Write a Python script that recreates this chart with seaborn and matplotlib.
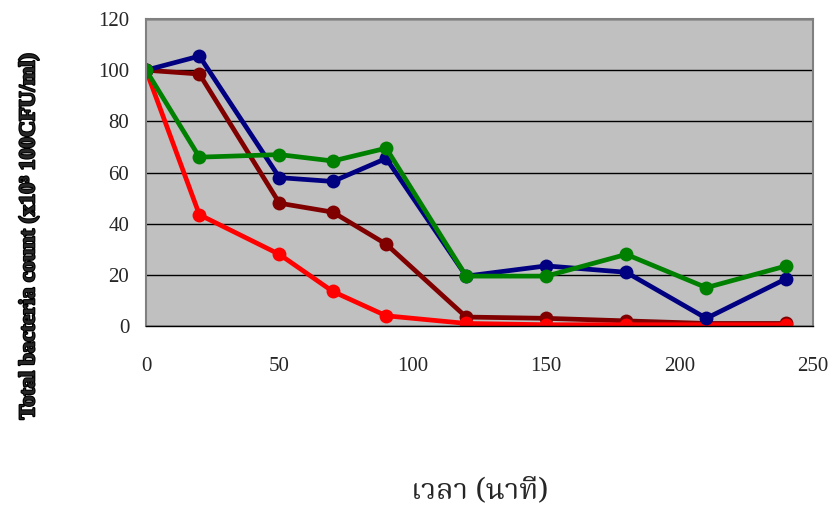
import matplotlib
matplotlib.use("Agg")
import matplotlib.pyplot as plt
import matplotlib.patheffects as pe
from matplotlib import font_manager
from matplotlib.ft2font import FT2Font
import seaborn as sns
import pandas as pd

# sampling times (minutes)
time_min = [0, 20, 50, 70, 90, 120, 150, 180, 210, 240]

# bacteria counts per treatment
series_blue = [100, 105.5, 58, 56.5, 65.5, 19.5, 23.5, 21, 3, 18.5]
series_brown = [100, 98.5, 48, 44.5, 32, 3.5, 3, 2, 1, 1]
series_red = [100, 43.5, 28, 13.5, 4, 1, 0.5, 0.5, 0.5, 0.5]
series_green = [100, 66, 67, 64.5, 69.5, 19.5, 19.5, 28, 15, 23.5]

x_ticks = [0, 50, 100, 150, 200, 250]
y_ticks = [0, 20, 40, 60, 80, 100, 120]

x_title = "เวลา (นาที)"
y_title = "Total bacteria count (x10³ 100CFU/ml)"


def find_thai_font():
    preferred = ["norasi", "kinnari", "notoserifthai", "notosansthai",
                 "garuda", "loma", "laksaman", "sawasdee", "umpush", "waree"]
    found = {}
    for path in font_manager.findSystemFonts():
        low = path.lower().replace("-", "").replace("_", "")
        if "mono" in low or "typo" in low or "typist" in low:
            continue
        try:
            f = FT2Font(path)
            if f.get_char_index(0x0E40) and f.get_char_index(0x0E27):
                found[low] = path
        except Exception:
            continue
    for key in preferred:
        for low, path in found.items():
            if key in low and "bold" in low:
                return path
        for low, path in found.items():
            if key in low:
                return path
    if found:
        return next(iter(found.values()))
    return None


sns.set_style("white")
plt.rcParams["font.family"] = ["Liberation Serif", "DejaVu Serif"]

fig = plt.figure(figsize=(8.35, 5.07), dpi=100)
ax = fig.add_axes([0.1749, 0.357, 0.7988, 0.6055])
ax.set_facecolor("#C0C0C0")

frames = []
for name, vals in [("brown", series_brown), ("red", series_red),
                   ("blue", series_blue), ("green", series_green)]:
    frames.append(pd.DataFrame({"time": time_min, "count": vals, "series": name}))
df = pd.concat(frames, ignore_index=True)

colors = {"brown": "#800000", "red": "#FF0000", "blue": "#000080", "green": "#008000"}
for name in ["brown", "red", "blue", "green"]:
    sub = df[df["series"] == name]
    sns.lineplot(data=sub, x="time", y="count", ax=ax, color=colors[name],
                 linewidth=3.4, marker="o", markersize=10, markeredgewidth=0,
                 legend=False)

ax.set_xlim(0, 250)
ax.set_ylim(0, 120)
ax.set_xticks(x_ticks)
ax.set_yticks(y_ticks)
ax.set_xticklabels([str(t) for t in x_ticks], fontsize=15)
ax.set_yticklabels([str(t) for t in y_ticks], fontsize=15)
ax.yaxis.grid(True, color="black", linewidth=1)
ax.xaxis.grid(False)
ax.set_axisbelow(True)
ax.tick_params(axis="y", direction="out", length=8, width=1, color="black", pad=4)
ax.tick_params(axis="x", direction="out", length=6, width=1, color="black", pad=16)
for side in ["left", "right", "top"]:
    ax.spines[side].set_color("#808080")
    ax.spines[side].set_linewidth(1.5)
ax.spines["bottom"].set_color("black")
ax.spines["bottom"].set_linewidth(1)
ax.set_xlabel("")
ax.set_ylabel("")

thai_path = find_thai_font()
if thai_path:
    thai_prop = font_manager.FontProperties(fname=thai_path, size=21, weight="bold")
else:
    thai_prop = font_manager.FontProperties(family="DejaVu Sans", size=19, weight="bold")
fig.text(0.575, 0.033, x_title, ha="center", va="center", fontproperties=thai_prop)

# heavy, tightly packed axis title
fig.text(0.035, 0.535, y_title, rotation=90, ha="center", va="center",
         fontsize=16, fontweight="bold",
         path_effects=[pe.withStroke(linewidth=1.6, foreground="black")])

fig.savefig("out.png", dpi=100)
